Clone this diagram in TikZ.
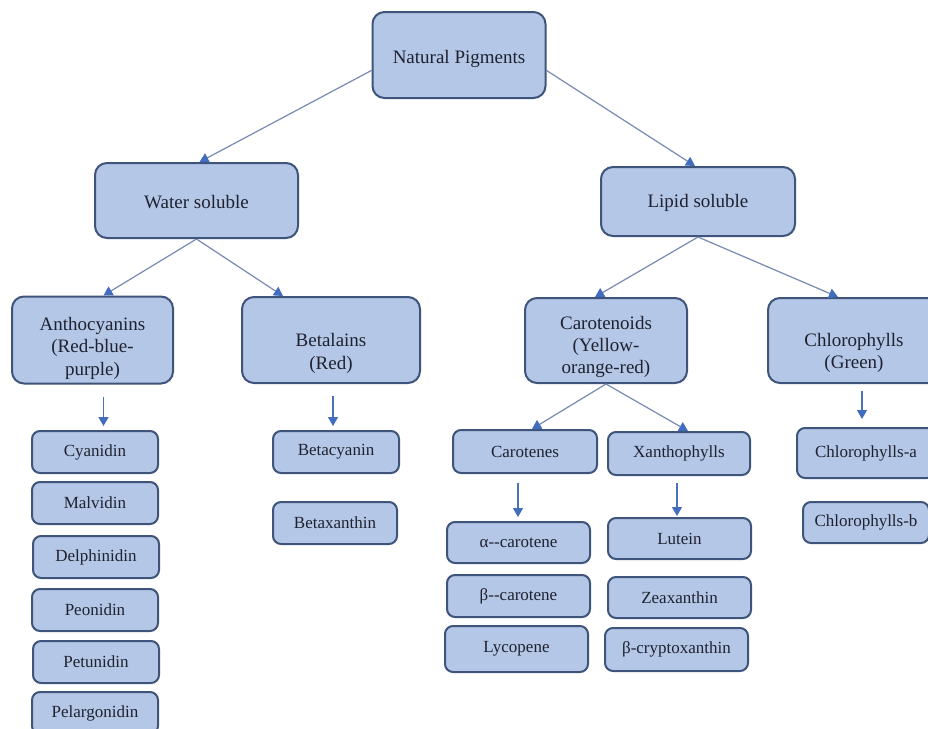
\documentclass[tikz,border=0pt]{standalone}
\usepackage{fontspec}
\setmainfont{Liberation Serif}
\usetikzlibrary{arrows.meta,positioning}
\definecolor{boxfill}{RGB}{181,199,231}
\definecolor{boxline}{RGB}{62,84,122}
\definecolor{linkgrey}{RGB}{120,138,178}
\definecolor{tipblue}{RGB}{66,108,190}
\definecolor{inktext}{RGB}{30,34,48}
% strut that pushes the text of a box down
\newcommand{\dropby}[1]{\rule{0pt}{#1}}

\begin{document}
\begin{tikzpicture}[x=0.5pt,y=-0.5pt,
    pigment/.style={draw=boxline, line width=1pt, fill=boxfill, rounded corners=6pt, align=center, text=inktext, font=\fontsize{9.5}{11.2}\selectfont, inner sep=2pt},
    item/.style={draw=boxline, line width=1pt, fill=boxfill, rounded corners=4pt, minimum width=63pt, minimum height=21pt, text=inktext, font=\fontsize{8.5}{10}\selectfont, inner sep=2pt},
    link/.style={draw=linkgrey, line width=0.6pt, -{Triangle[width=5pt,length=4.5pt,color=tipblue]}},
    down/.style={link, draw=tipblue!80!linkgrey, shorten <=6pt, shorten >=2pt}]
    \clip (0,0) rectangle (928,729);
    \fill[white] (0,0) rectangle (928,729);

    % top level
    \node[pigment, minimum width=86.5pt, minimum height=43pt] (np) at (459,55) {\dropby{11pt}Natural Pigments};
    \node[pigment, minimum width=101.5pt, minimum height=37.5pt] (ws) at (196.5,200.5) {\dropby{8pt}Water soluble};
    \node[pigment, minimum width=97pt, minimum height=34.5pt] (ls) at (698,201.5) {\dropby{8pt}Lipid soluble};

    % pigment groups
    \node[pigment, minimum width=80.5pt, minimum height=43.5pt] (antho) at (92.5,340) {\dropby{15pt}Anthocyanins\\(Red-blue-\\purple)};
    \node[pigment, minimum width=89pt, minimum height=43pt] (betal) at (331,340) {\dropby{20pt}Betalains\\(Red)};
    \node[pigment, minimum width=81pt, minimum height=42.5pt] (carot) at (606,340.5) {\dropby{13pt}Carotenoids\\(Yellow-\\orange-red)};
    \node[pigment, minimum width=86pt, minimum height=42.5pt] (chloro) at (854,340.5) {\dropby{19pt}Chlorophylls\\(Green)};

    % anthocyanins
    \node[item] (cyan) at (95,452) {Cyanidin};
    \node[item] (malv) at (95,503) {Malvidin};
    \node[item] (delph) at (96,557) {Delphinidin};
    \node[item] (peon) at (95,610) {Peonidin};
    \node[item] (petun) at (96,662) {Petunidin};
    \node[item] (pelarg) at (95,713) {Pelargonidin};

    % betalains
    \node[item] (betacy) at (336,452) {Betacyanin};
    \node[item, minimum width=62pt] (betaxa) at (335,523) {Betaxanthin};

    % carotenoids
    \node[item, minimum width=72pt, minimum height=21.5pt] (carotenes) at (525,451.5) {Carotenes};
    \node[item, minimum width=71pt, minimum height=21.5pt] (xantho) at (679,453.5) {Xanthophylls};
    \node[item, minimum width=71.5pt, minimum height=20.5pt] (acar) at (518.5,542.5) {α-{}-carotene};
    \node[item, minimum width=71.5pt] (bcar) at (518.5,596) {β-{}-carotene};
    \node[item, minimum width=71.5pt, minimum height=23pt] (lyco) at (516.5,649) {Lycopene};
    \node[item, minimum width=71.5pt, minimum height=20.5pt] (lutein) at (679.5,538.5) {Lutein};
    \node[item, minimum width=71.5pt, minimum height=20.5pt] (zeax) at (679.5,597.5) {Zeaxanthin};
    \node[item, minimum width=71.5pt, minimum height=21.5pt] (bcrypt) at (676.5,649.5) {β-cryptoxanthin};

    % chlorophylls
    \node[item, minimum width=69pt, minimum height=25pt] (chla) at (866,453) {Chlorophylls-a};
    \node[item, minimum width=63pt, minimum height=20.5pt] (chlb) at (866,522.5) {Chlorophylls-b};

    % branches
    \draw[link] (np.190) -- ([xshift=1.5pt]ws.north);
    \draw[link] (np.-10) -- ([xshift=-1.5pt]ls.north);
    \draw[link] (ws.south) -- ([xshift=5.5pt]antho.north);
    \draw[link] (ws.south) -- ([xshift=-24pt]betal.north);
    \draw[link] (ls.south) -- ([xshift=-5.5pt]carot.north);
    \draw[link] (ls.south) -- ([xshift=-8pt]chloro.north);
    \draw[link] (carot.south) -- ([xshift=3.5pt]carotenes.north);
    \draw[link] (carot.south) -- ([xshift=4.5pt]xantho.north);

    % down arrows
    \coordinate (d1) at ([xshift=5.5pt]antho.south);
    \draw[down] (d1) -- (d1 |- cyan.north);
    \coordinate (d2) at ([xshift=1pt]betal.south);
    \draw[down] (d2) -- (d2 |- betacy.north);
    \coordinate (d3) at ([xshift=-3.5pt]carotenes.south);
    \draw[down, shorten <=4.5pt] (d3) -- (d3 |- acar.north);
    \coordinate (d4) at ([xshift=-1pt]xantho.south);
    \draw[down, shorten <=3.5pt, shorten >=0.5pt] (d4) -- (d4 |- lutein.north);
    \coordinate (d5) at ([xshift=4pt]chloro.south);
    \draw[down, shorten <=3.5pt, shorten >=4pt] (d5) -- (d5 |- chla.north);
\end{tikzpicture}
\end{document}
